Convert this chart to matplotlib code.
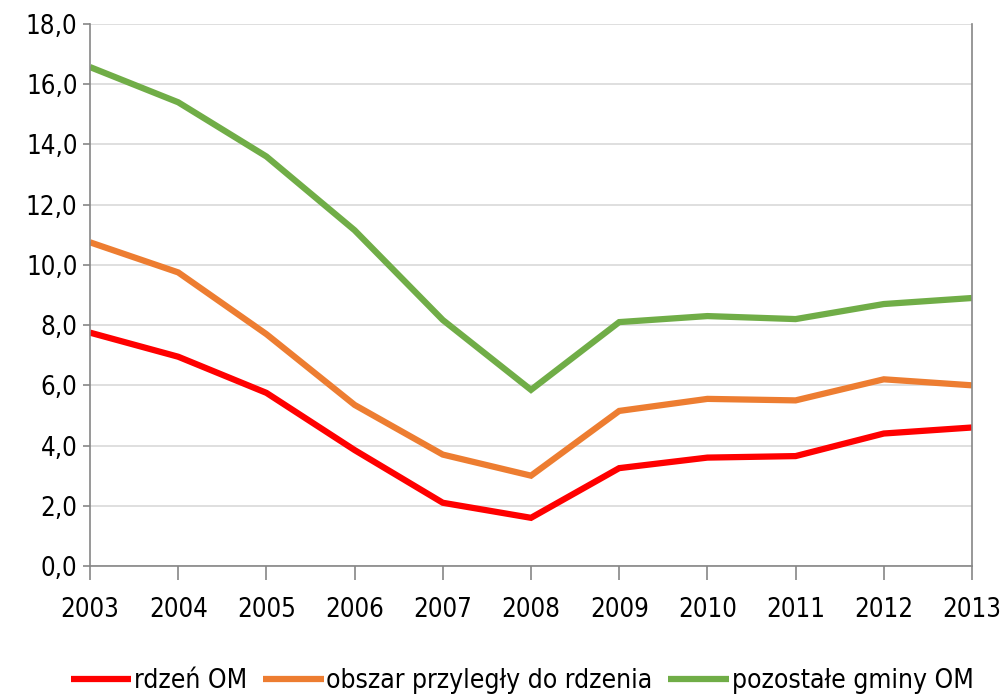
import matplotlib
matplotlib.use("Agg")
import matplotlib.pyplot as plt
from matplotlib.ticker import FuncFormatter, MultipleLocator

years = [2003, 2004, 2005, 2006, 2007, 2008, 2009, 2010, 2011, 2012, 2013]
rdzen = [7.75, 6.95, 5.75, 3.85, 2.1, 1.6, 3.25, 3.6, 3.65, 4.4, 4.6]
obszar = [10.75, 9.75, 7.7, 5.35, 3.7, 3.0, 5.15, 5.55, 5.5, 6.2, 6.0]
pozostale = [16.57, 15.4, 13.6, 11.15, 8.17, 5.85, 8.1, 8.3, 8.2, 8.7, 8.9]
labels = ["rdzeń OM", "obszar przyległy do rdzenia", "pozostałe gminy OM"]
colors = ["#FF0000", "#ED7D31", "#70AD47"]

plt.rcParams['font.family'] = ['DejaVu Sans']
plt.rcParams['font.stretch'] = 'condensed'

fig = plt.figure(figsize=(10.04, 7.0), dpi=100)
ax = fig.add_axes([90/1004, 1-566/700, (972-90)/1004, (566-24)/700])

for vals, lab, c in zip([rdzen, obszar, pozostale], labels, colors):
    ax.plot(years, vals, color=c, lw=4.5, label=lab, solid_capstyle='butt', solid_joinstyle='miter')

ax.set_xlim(2003, 2013)
ax.set_ylim(0, 18)
ax.yaxis.set_major_locator(MultipleLocator(2))
ax.set_xticks(years)
ax.yaxis.set_major_formatter(FuncFormatter(lambda v, p: f"{v:.1f}".replace('.', ',')))
ax.grid(axis='y', color='#D9D9D9', lw=1.2)
ax.set_axisbelow(True)
for s in ['left', 'bottom', 'right']:
    ax.spines[s].set_color('#868686')
    ax.spines[s].set_linewidth(1.2)
ax.spines['top'].set_visible(False)
ax.tick_params(axis='x', direction='out', length=10, width=1.2, color='#868686', labelsize=18.5, pad=12)
ax.tick_params(axis='y', direction='out', length=5, width=1.2, color='#868686', labelsize=18.5, pad=4)

leg = fig.legend(loc='lower center', bbox_to_anchor=(0.52, -0.025), ncol=3, frameon=False,
                 fontsize=19, handlelength=2.3, handletextpad=0.1, columnspacing=0.6)

fig.savefig("out.png", dpi=100)
